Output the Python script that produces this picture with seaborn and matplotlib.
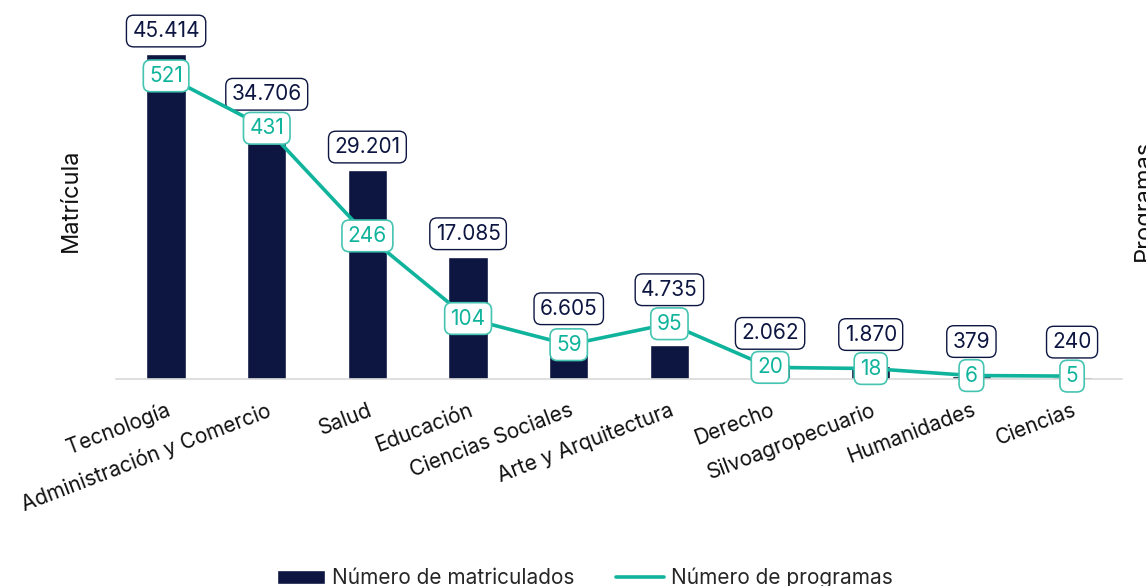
import numpy as np
import pandas as pd
import seaborn as sns
import matplotlib.pyplot as plt

categorias = ["Tecnología", "Administración y Comercio", "Salud", "Educación",
              "Ciencias Sociales", "Arte y Arquitectura", "Derecho",
              "Silvoagropecuario", "Humanidades", "Ciencias"]
matricula = [45414, 34706, 29201, 17085, 6605, 4735, 2062, 1870, 379, 240]
programas = [521, 431, 246, 104, 59, 95, 20, 18, 6, 5]

NAVY = "#0D1541"
TEAL = "#10B49C"
TEAL_EDGE = "#45C4B1"

sns.set_theme(style="white")
plt.rcParams['font.family'] = ['Inter', 'DejaVu Sans']

df = pd.DataFrame({"categoria": categorias, "matricula": matricula, "programas": programas})
df["pos"] = np.arange(len(df))

fig = plt.figure(figsize=(11.46, 5.86), dpi=100)
ax = fig.add_axes([0.101, 0.3532, 0.8784, 0.6106])

sns.barplot(data=df, x="categoria", y="matricula", color=NAVY, saturation=1,
            width=0.39, ax=ax, label="Número de matriculados")
ax2 = ax.twinx()
sns.lineplot(data=df, x="pos", y="programas", color=TEAL, linewidth=2.6, ax=ax2,
             label="Número de programas")

ax.set_xlim(-0.5, len(df) - 0.5)
ax.set_ylim(0, 50000)
ax2.set_ylim(0, 615)

for a in (ax, ax2):
    if a.get_legend():
        a.get_legend().remove()
    for s in ["top", "right", "left"]:
        a.spines[s].set_visible(False)
    a.set_yticks([])
    a.set_ylabel("")
    a.set_xlabel("")
ax2.spines["bottom"].set_visible(False)
ax.spines["bottom"].set_color("#D9D9D9")
ax.spines["bottom"].set_linewidth(1.2)

ax.set_xticks(df["pos"])
ax.set_xticklabels(categorias, rotation=21, ha="right", va="top",
                   rotation_mode="anchor", fontsize=15, color="#111111")
ax.tick_params(axis="x", length=0, pad=15)

# labels: line values on the points, enrolment boxes above bar/line
for i, (m, p) in enumerate(zip(matricula, programas)):
    bar_top = ax.transData.transform((i, m))[1]
    line_y = ax2.transData.transform((i, p))[1]
    target = max(bar_top + 23, line_y + 34)
    ax.annotate(f"{m:,}".replace(",", "."), xy=(i, m), xycoords="data",
                xytext=(0, target - bar_top), textcoords="offset pixels",
                ha="center", va="center", fontsize=15, color=NAVY,
                annotation_clip=False,
                bbox=dict(boxstyle="round,pad=0.28,rounding_size=0.35",
                          fc="white", ec=NAVY, lw=1))
    ax2.annotate(str(p), xy=(i, p), ha="center", va="center", fontsize=15,
                 color=TEAL, annotation_clip=False, zorder=5,
                 bbox=dict(boxstyle="round,pad=0.28,rounding_size=0.35",
                           fc="white", ec=TEAL_EDGE, lw=1.2))

fig.text(71 / 1146, 1 - 200 / 586, "Matrícula", rotation=90, ha="center",
         va="center", fontsize=17, color="#111111")
fig.text(1144 / 1146, 1 - 200 / 586, "Programas", rotation=90, ha="center",
         va="center", fontsize=17, color="#111111")

h1, l1 = ax.get_legend_handles_labels()
h2, l2 = ax2.get_legend_handles_labels()
fig.legend(h1 + h2, l1 + l2, loc="center", bbox_to_anchor=(585 / 1146, 1 - 578 / 586),
           ncol=2, frameon=False, handlelength=2.3, handletextpad=0.35,
           columnspacing=2.0, prop={"size": 15})

fig.savefig("out.png", dpi=100)
